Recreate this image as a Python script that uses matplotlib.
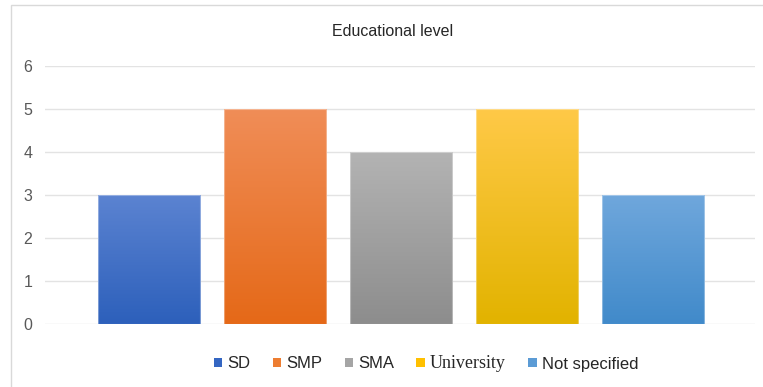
import matplotlib.pyplot as plt
import matplotlib.colors as mcolors
from matplotlib.patches import Rectangle, Patch
import numpy as np

categories = ['SD', 'SMP', 'SMA', 'University', 'Not specified']
values = [3, 5, 4, 5, 3]
top_colors = ['#5b83d1', '#f08d57', '#b3b3b3', '#ffc947', '#6fa7dc']
bottom_colors = ['#2d60bb', '#e56918', '#8d8d8d', '#e2b300', '#418aca']
legend_colors = ['#3466c2', '#ed7d31', '#a5a5a5', '#ffc000', '#5b9bd5']

plt.rcParams['font.family'] = ['Liberation Sans', 'DejaVu Sans']

fig = plt.figure(figsize=(7.63, 3.87), dpi=100)
ax = fig.add_axes([45/763, 63/387, 710/763, 258/387])

x = np.arange(len(categories))
bars = ax.bar(x, values, width=0.81, color='none', zorder=3)
for b, c1, c2 in zip(bars, top_colors, bottom_colors):
    cmap = mcolors.LinearSegmentedColormap.from_list('g', [c2, c1])
    x0, y0 = b.get_x(), b.get_y()
    w, h = b.get_width(), b.get_height()
    grad = np.linspace(0, 1, 100).reshape(-1, 1)
    im = ax.imshow(grad, cmap=cmap, origin='lower', aspect='auto',
                   extent=[x0, x0 + w, y0, y0 + h], zorder=2)
    im.set_clip_path(b)
    b.set_edgecolor((1, 1, 1, 0.35))
    b.set_linewidth(0.8)

ax.set_xlim(-0.825, 4.81)
ax.set_ylim(0, 6)
ax.set_yticks(range(0, 7))
ax.set_xticks([])
ax.tick_params(axis='y', length=0, pad=9, labelsize=11.5, labelcolor='#595959')
ax.grid(axis='y', color='#e3e3e3', linewidth=1, zorder=0)
for s in ax.spines.values():
    s.set_visible(False)

fig.text(393/763, 1 - 32/387, 'Educational level', ha='center', va='center',
         fontsize=11.5, color='#262626')

handles = [Patch(facecolor=c, edgecolor='none') for c in legend_colors]
leg = fig.legend(handles, categories, loc='center', ncol=5,
                 bbox_to_anchor=(426/763, 1 - 364/387), frameon=False,
                 handlelength=0.5, handleheight=0.5, handletextpad=0.3,
                 columnspacing=1.35, fontsize=12)
for t in leg.get_texts():
    t.set_color('#262626')
    if t.get_text() == 'University':
        t.set_fontfamily('Liberation Serif')
        t.set_fontsize(13)

fig.patches.append(Rectangle((11/763, -0.1), 1.2, 1.1 - 5/387,
                             transform=fig.transFigure, fill=False,
                             edgecolor='#d9d9d9', linewidth=1))

fig.savefig('out.png', dpi=100)
